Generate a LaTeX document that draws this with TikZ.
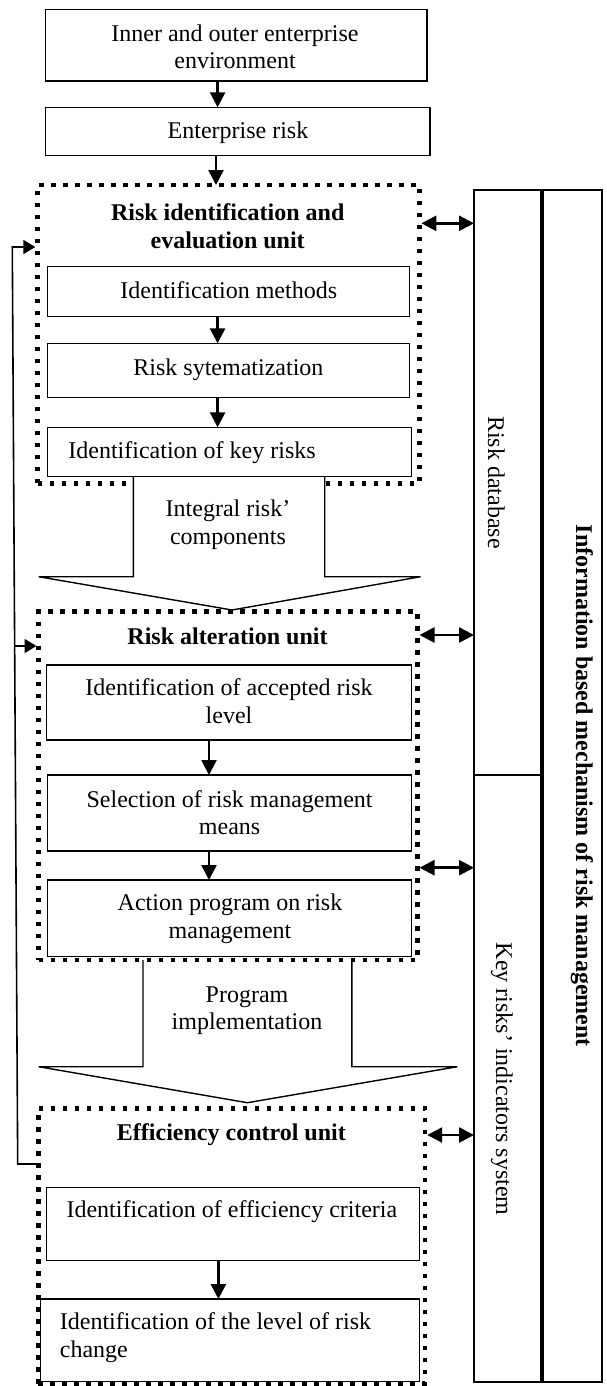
\documentclass[tikz,border=0pt]{standalone}
\usepackage{fontspec}
\setmainfont{Liberation Serif}
\usetikzlibrary{arrows.meta,fit}
\begin{document}
\begin{tikzpicture}[x=0.5pt,y=-0.5pt,
  font=\fontsize{12pt}{13.8pt}\selectfont,
  box/.style={draw, line width=0.7pt, inner sep=0pt, outer sep=0pt},
  colbox/.style={draw, line width=0.6pt, inner sep=0pt, outer sep=0pt},
  dotbox/.style={draw, line width=2.25pt, dash pattern=on 2.25pt off 3.75pt, inner sep=0pt, outer sep=0pt},
  txt/.style={inner sep=0pt, anchor=base, align=center},
  ltxt/.style={inner sep=0pt, anchor=base west, align=left},
  bf/.style={font=\fontsize{12pt}{13.8pt}\selectfont\bfseries},
  arr/.style={line width=1.3pt, -{Triangle[length=7.5pt,width=7.5pt]}},
  darr/.style={line width=1.3pt, {Triangle[length=7.5pt,width=7.5pt]}-{Triangle[length=7.5pt,width=7.5pt]}},
  farr/.style={line width=0.8pt, -{Triangle[length=6pt,width=7pt]}},
  blk/.style={line width=0.7pt},
]
\useasboundingbox (0,0) rectangle (606,1386);

% top boxes
\node[box, fit={(45.6,9.3)(427.1,81)}] (b1) {};
\node[box, fit={(45.6,107.3)(430,155.7)}] (b2) {};

% unit 1
\node[dotbox, fit={(37.5,185)(419.4,483.3)}] (d1) {};
\node[box, fit={(47.2,266.7)(409.7,316.7)}] (m1) {};
\node[box, fit={(47.2,343.3)(409.7,397.7)}] (m2) {};
\node[box, fit={(47.2,427.3)(411.7,476.7)}] (m3) {};

% block arrow 1
\fill[white] (133.4,478) -- (133.4,576.7) -- (38.7,576.7) -- (232,610) -- (420.6,576.7) -- (324.7,576.7) -- (324.7,478) -- cycle;
\draw[blk] (133.4,476.7) -- (133.4,576.7) -- (38.7,576.7) -- (232,610) -- (420.6,576.7) -- (324.7,576.7) -- (324.7,476.7);

% block arrow 2
\draw[blk, fill=white] (143,960) -- (143,1066.7) -- (38.7,1066.7) -- (247.4,1102.7) -- (457.3,1066.7) -- (351.8,1066.7) -- (351.8,960);

% unit 2
\node[dotbox, fit={(38.7,611.7)(417.5,960)}] (d2) {};
\node[box, fit={(46.4,665)(411.7,740)}] (a1) {};
\node[box, fit={(47.5,775)(411.7,851)}] (a2) {};
\node[box, fit={(47.5,880)(411.7,956.7)}] (a3) {};

% unit 3
\node[dotbox, fit={(38.3,1108.3)(425.2,1383.5)}] (d3) {};
\node[box, fit={(46.4,1187.3)(419.4,1260.7)}] (e1) {};
\node[box, fit={(40.5,1299)(419.4,1381.7)}] (e2) {};

% right columns
\node[colbox, fit={(474,190)(541,775)}] (c1) {};
\node[colbox, fit={(474,775)(541,1382)}] (c2) {};
\node[colbox, fit={(543,190)(602,1382)}] (c3) {};

% texts (multi-line nodes: base = baseline of last line)
\node[txt] (t1) at (235,68.7) {Inner and outer enterprise\\environment};
\node[txt] (t2) at (238,138.7) {Enterprise risk};
\node[txt, bf] (t3) at (227.7,248.4) {Risk identification and\\evaluation unit};
\node[txt] (t4) at (228.8,298.1) {Identification methods};
\node[txt] (t5) at (228.4,375.4) {Risk sytematization};
\node[ltxt] (t6) at (68,458.7) {Identification of key risks};
\node[txt] (t7) at (228,544.2) {Integral risk’\\components};
\node[txt, bf] (t8) at (227.5,644.7) {Risk alteration unit};
\node[txt] (t9) at (229,723.4) {Identification of accepted risk\\level};
\node[txt] (t10) at (229.6,834.9) {Selection of risk management\\means};
\node[txt] (t11) at (230,938.4) {Action program on risk\\management};
\node[txt] (t12) at (247,1029.7) {Program\\implementation};
\node[txt, bf] (t13) at (231.4,1140.4) {Efficiency control unit};
\node[txt] (t14) at (231.9,1217.1) {Identification of efficiency criteria};
\node[ltxt] (t15) at (59.5,1357.5) {Identification of the level of risk\\change};
\node[txt, rotate=-90] (t16) at (488,482.5) {Risk database};
\node[txt, rotate=-90] (t17) at (496,1079) {Key risks’ indicators system};
\node[txt, bf, rotate=-90] (t18) at (576,785.8) {Information based mechanism of risk management};

% vertical connectors
\coordinate (xa) at (217.6,0);
\coordinate (xb) at (216,0);
\coordinate (xc) at (209,0);
\coordinate (xd) at (218.4,0);
\draw[arr] (b1.south -| xa) -- (b2.north -| xa);
\draw[arr] (b2.south -| xb) -- (d1.north -| xb);
\draw[arr] (m1.south -| xa) -- (m2.north -| xa);
\draw[arr] (m2.south -| xa) -- (m3.north -| xa);
\draw[arr] (a1.south -| xc) -- (a2.north -| xc);
\draw[arr] (a2.south -| xc) -- (a3.north -| xc);
\draw[arr] (e1.south -| xd) -- (e2.north -| xd);

% double arrows to the columns
\coordinate (y1) at (0,223.3);
\coordinate (y2) at (0,635);
\coordinate (y3) at (0,867.7);
\coordinate (y4) at (0,1135);
\draw[darr, shorten <=1pt] (d1.east |- y1) -- (c1.west |- y1);
\draw[darr, shorten <=1pt] (d2.east |- y2) -- (c1.west |- y2);
\draw[darr, shorten <=1pt] (d2.east |- y3) -- (c2.west |- y3);
\draw[darr, shorten <=1pt] (d3.east |- y4) -- (c2.west |- y4);

% feedback loop
\coordinate (fb) at (17.7,1164);
\coordinate (ft) at (12.3,247);
\coordinate (fm) at (14.65,646);
\draw[farr, shorten >=1.1pt] (d3.west |- fb) -- (fb) -- (ft) -- (d1.west |- ft);
\draw[farr, shorten >=1.1pt] (fm) -- (d2.west |- fm);
\end{tikzpicture}
\end{document}
